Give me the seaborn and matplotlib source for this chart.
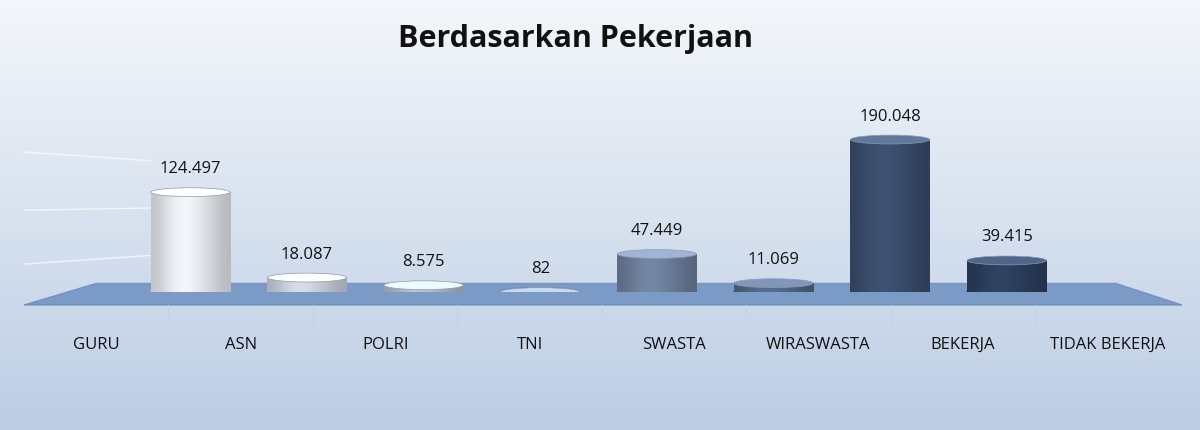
import numpy as np
import pandas as pd
import matplotlib
matplotlib.use("Agg")
import matplotlib.pyplot as plt
import seaborn as sns
from matplotlib.patches import Ellipse, Polygon

categories = ["GURU", "ASN", "POLRI", "TNI", "SWASTA", "WIRASWASTA", "BEKERJA", "TIDAK BEKERJA"]
values = [124497, 18087, 8575, 82, 47449, 11069, 190048, 39415]
bar_colors = ["#dfe2e7", "#c4cbd6", "#a9b4c5", "#8a98ae", "#6b7c97", "#516482", "#394b69", "#2b3d5a"]

df = pd.DataFrame({"kategori": categories, "jumlah": values})

sns.set_theme(style="white")
plt.rcParams["font.family"] = ["Open Sans", "DejaVu Sans"]

fig = plt.figure(figsize=(12, 4.31), dpi=100)

# background gradient
bg = fig.add_axes([0, 0, 1, 1], zorder=0)
grad = np.linspace(0, 1, 256).reshape(-1, 1)
cmap = matplotlib.colors.LinearSegmentedColormap.from_list("bg", ["#f4f7fb", "#bccde4"])
bg.imshow(grad, aspect="auto", cmap=cmap, extent=[0, 1, 0, 1], origin="upper")
bg.add_patch(Polygon([[0.02, 0.29], [0.985, 0.29], [0.93, 0.34], [0.08, 0.34]],
                     closed=True, color="#6d8fc0", alpha=0.85))
for y0, y1 in [(0.62, 0.645), (0.51, 0.51), (0.40, 0.385)]:
    bg.plot([0.02, 0.125], [y1, y0 + 0.005], color="white", lw=1, alpha=0.7)
bg.set_xlim(0, 1)
bg.set_ylim(0, 1)
bg.axis("off")

# category label axis (front row)
lab = fig.add_axes([0.02, 0.29, 0.963, 0.01], zorder=1)
lab.set_facecolor("none")
lab.set_xlim(-0.5, len(categories) - 0.5)
lab.set_xticks(range(len(categories)))
lab.set_xticklabels(categories)
lab.set_yticks([])
lab.tick_params(axis="x", length=0, pad=22, labelsize=12, colors="#111111")
for s in lab.spines.values():
    s.set_visible(False)

# bars (back row, perspective-narrowed)
ax = fig.add_axes([132 / 1200, 0.32, (1065 - 132) / 1200, 0.54], zorder=2)
ax.set_facecolor("none")
sns.barplot(data=df, x="kategori", y="jumlah", hue="kategori", palette=bar_colors,
            legend=False, width=0.68, ax=ax, saturation=1, edgecolor="none")
ax.set_ylim(0, 290000)
ax.set_xlim(-0.5, len(categories) - 0.5)

shade = np.array([[0.55, 0.75, 0.95, 1.0, 0.9, 0.75, 0.6, 0.45]])
cap_h = 11000
for i, (patch, v, c) in enumerate(zip(ax.patches, values, bar_colors)):
    rgb = np.array(matplotlib.colors.to_rgb(c))
    img = np.clip(rgb[None, None, :] * (0.6 + 0.5 * shade[..., None]), 0, 1)
    im = ax.imshow(img, extent=[i - 0.34, i + 0.34, 0, v], aspect="auto", zorder=3,
                   interpolation="bicubic")
    im.set_clip_path(patch)
    top = np.clip(rgb * 1.25 + 0.1, 0, 1)
    ax.add_patch(Ellipse((i, v), 0.68, cap_h, color=top, zorder=5, ec="#8d99ab", lw=0.5))
    ax.add_patch(Ellipse((i, 0), 0.68, cap_h, color=rgb * 0.85, zorder=2))
    ax.text(i, v + 20000, f"{v:,}".replace(",", "."), ha="center", va="bottom",
            fontsize=12, color="#111111")
ax.set_xlabel("")
ax.set_ylabel("")
ax.set_xticks([])
ax.set_yticks([])
for s in ax.spines.values():
    s.set_visible(False)

# category separators
for i in range(1, len(categories)):
    xf = 0.02 + 0.963 * i / len(categories)
    fig.add_artist(plt.Line2D([xf, xf], [0.21, 0.29], color="#c8d3e3", lw=1))

fig.text(0.48, 0.91, "Berdasarkan Pekerjaan", ha="center", va="center",
         fontsize=22, fontweight="bold", color="#111111")

fig.savefig("out.png", dpi=100)
